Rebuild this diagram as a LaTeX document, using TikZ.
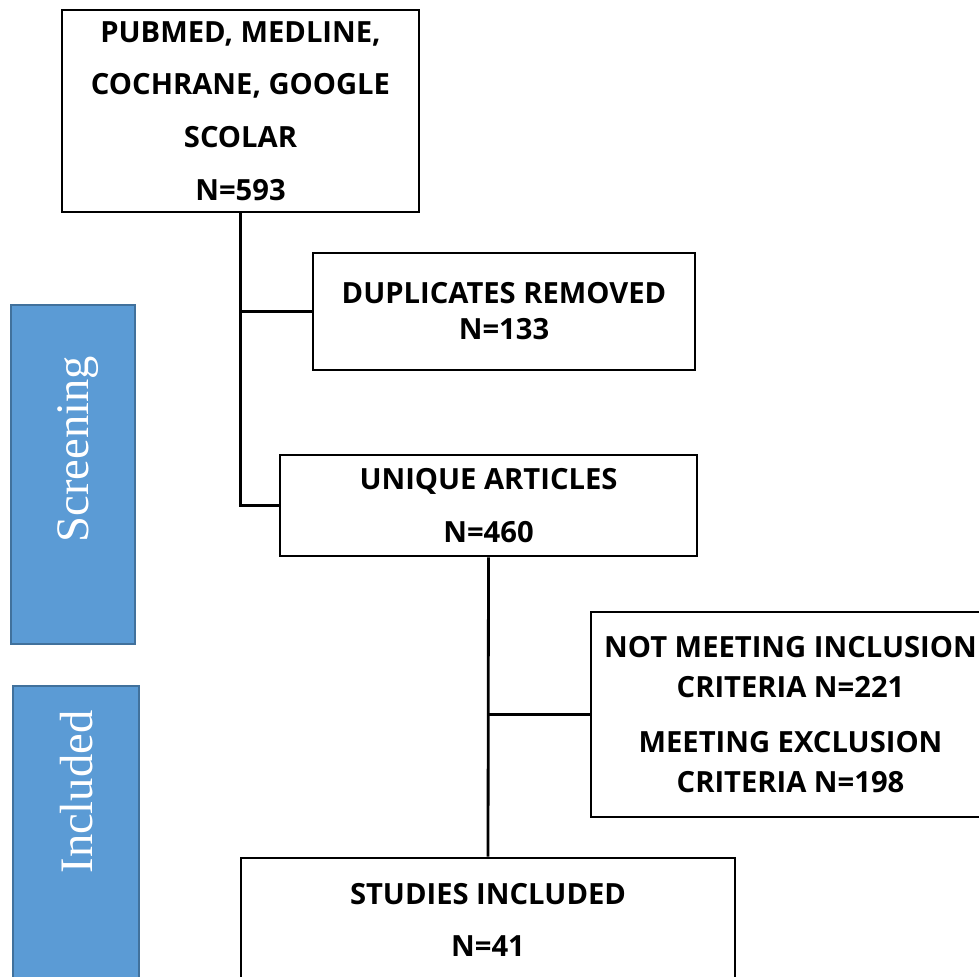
\documentclass[tikz,border=0pt]{standalone}
\usepackage{fontspec}
\setmainfont{Liberation Serif}
\newfontfamily\boxfont{Open Sans}
\usepackage{tikz}
\usetikzlibrary{positioning,calc}

\definecolor{stageblue}{HTML}{5B9BD5}
\definecolor{stageedge}{HTML}{41719C}

\begin{document}
\begin{tikzpicture}[
    flowbox/.style={draw=black, line width=1.6pt, fill=white, align=center, inner sep=0pt,
        font=\boxfont\bfseries\fontsize{16.6}{30}\selectfont},
    stage/.style={draw=stageedge, fill=stageblue, line width=1.2pt, inner sep=0pt},
    stagetext/.style={text=white, rotate=90, font=\fontsize{26.5}{30}\selectfont},
    link/.style={draw=black, line width=1.6pt}
]
    \useasboundingbox (0,0) rectangle (19.58,-19.52);
    \clip (0,0) rectangle (19.58,-19.52);

    % Stage bars
    \node[stage, minimum width=2.48cm, minimum height=6.78cm] (scr) at (1.46,-9.49) {};
    \node[stagetext] (scrtext) at (1.57,-8.98) {Screening};
    \node[stage, minimum width=2.52cm, minimum height=6.78cm] (inc) at (1.52,-17.11) {};
    \node[stagetext] (inctext) at (1.54,-15.84) {Included};

    % Boxes
    \node[flowbox, minimum width=7.14cm, minimum height=4.04cm] (src) at (4.81,-2.22)
        {PUBMED, MEDLINE,\\COCHRANE, GOOGLE\\SCOLAR\\N=593};
    \node[flowbox, minimum width=7.64cm, minimum height=2.34cm,
        font=\boxfont\bfseries\fontsize{16.6}{20.5}\selectfont] (dup) at (10.08,-6.23)
        {DUPLICATES REMOVED\\N=133};
    \node[flowbox, minimum width=8.34cm, minimum height=2.02cm] (uniq) at (9.77,-10.11)
        {UNIQUE ARTICLES\\N=460};
    \node[flowbox, minimum width=7.98cm, minimum height=4.1cm,
        font=\boxfont\bfseries\fontsize{16.6}{22.8}\selectfont] (excl) at (15.81,-14.29)
        {NOT MEETING INCLUSION\\CRITERIA N=221\\[8.5pt]MEETING EXCLUSION\\CRITERIA N=198};
    \node[flowbox, minimum width=9.88cm, minimum height=2.48cm] (incl) at (9.76,-18.40)
        {STUDIES INCLUDED\\N=41};

    % Connectors
    \draw[link] (src.south) |- (uniq.west);
    \draw[link] (src.south |- dup.west) -- (dup.west);
    \draw[link] (uniq.south) -- (incl.north);
    \draw[link] (uniq.south |- excl.west) -- (excl.west);
\end{tikzpicture}
\end{document}
